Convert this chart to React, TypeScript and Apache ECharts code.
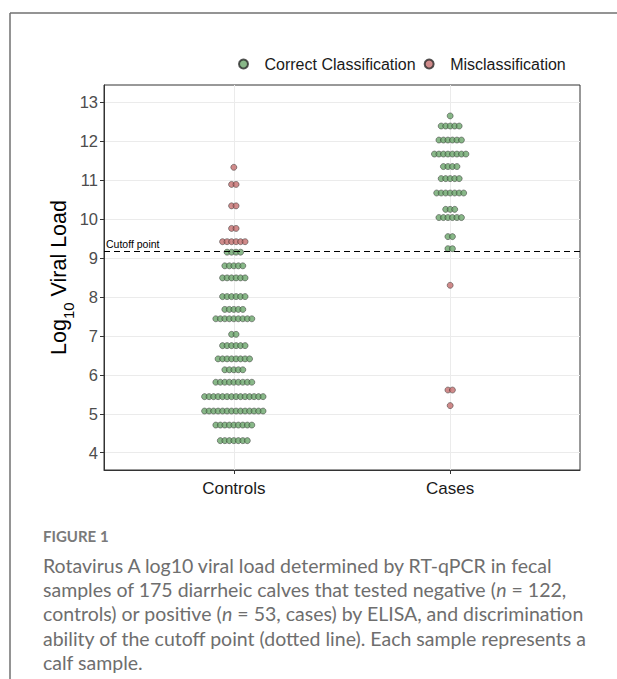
import React, { useEffect, useRef } from "react";
import * as echarts from "echarts";

// ---- Data ----
const categories = ["Controls", "Cases"];
const yTickValues = [4, 5, 6, 7, 8, 9, 10, 11, 12, 13];
const cutoffValue = 9.17;

// dot-plot bins: bin centre (log10 viral load) and number of calves in the bin
const controlsCorrectY = [9.15, 8.8, 8.49, 8.01, 7.68, 7.44, 7.04, 6.75, 6.41, 6.13, 5.81, 5.44, 5.07, 4.71, 4.31];
const controlsCorrectN = [4, 5, 6, 6, 5, 9, 2, 6, 8, 5, 9, 14, 14, 9, 7];
const controlsMisY = [11.33, 10.89, 10.34, 9.76, 9.42];
const controlsMisN = [1, 2, 2, 2, 6];
const casesCorrectY = [12.65, 12.39, 12.03, 11.67, 11.35, 11.04, 10.67, 10.25, 10.04, 9.55, 9.24];
const casesCorrectN = [1, 5, 6, 8, 4, 5, 7, 3, 6, 2, 2];
const casesMisY = [8.3, 5.61, 5.21];
const casesMisN = [1, 2, 1];

const captionTitle = "FIGURE 1";
const captionLines = [
  "Rotavirus A log10 viral load determined by RT-qPCR in fecal",
  "samples of 175 diarrheic calves that tested negative ({i|n} = 122,",
  "controls) or positive ({i|n} = 53, cases) by ELISA, and discrimination",
  "ability of the cutoff point (dotted line). Each sample represents a",
  "calf sample.",
];

// ---- Layout helpers ----
const DOT_STEP = 0.0208; // horizontal stacking step (x-axis units)

function stackDots(groupIndex: number, ys: number[], ns: number[]) {
  const pts: number[][] = [];
  ys.forEach((y, i) => {
    const n = ns[i];
    for (let j = 0; j < n; j++) {
      pts.push([groupIndex + 1 + (j - (n - 1) / 2) * DOT_STEP, y]);
    }
  });
  return pts;
}

const GREEN = "#6ba66b";
const RED = "#c46e6e";
const AXIS_FONT = "'Liberation Sans', Arial, sans-serif";
const CAPTION_FONT = "Lato, 'Open Sans', sans-serif";

export default function App() {
  const ref = useRef<HTMLDivElement>(null);

  useEffect(() => {
    if (!ref.current) return;
    const chart = echarts.init(ref.current, undefined, { renderer: "svg" });

    const correctData = [
      ...stackDots(0, controlsCorrectY, controlsCorrectN),
      ...stackDots(1, casesCorrectY, casesCorrectN),
    ];
    const misData = [
      ...stackDots(0, controlsMisY, controlsMisN),
      ...stackDots(1, casesMisY, casesMisN),
    ];

    const captionStartY = 565;
    const captionStep = 24.4;

    chart.setOption({
      animation: false,
      backgroundColor: "#ffffff",
      grid: {
        left: 104,
        right: 37,
        top: 85,
        bottom: 209,
        show: true,
        borderColor: "#333333",
        borderWidth: 1,
        containLabel: false,
      },
      legend: {
        left: 233,
        top: 51,
        itemWidth: 32,
        itemHeight: 9,
        itemGap: 8,
        selectedMode: false,
        textStyle: { fontSize: 16, color: "#1a1a1a", fontFamily: AXIS_FONT },
        data: ["Correct Classification", "Misclassification"],
      },
      xAxis: {
        type: "value",
        min: 0.4,
        max: 2.6,
        axisLine: { show: true, lineStyle: { color: "#333333", width: 1 } },
        axisTick: { show: true, customValues: [1, 2], length: 4, lineStyle: { color: "#333333" } },
        axisLabel: {
          customValues: [1, 2],
          formatter: (v: number) => categories[Math.round(v) - 1] ?? "",
          fontSize: 17,
          color: "#1a1a1a",
          fontFamily: AXIS_FONT,
          margin: 10,
        },
        splitLine: { show: true, lineStyle: { color: "#ebebeb", width: 1 } },
      },
      yAxis: {
        type: "value",
        min: 3.556,
        max: 13.444,
        axisLine: { show: true, lineStyle: { color: "#333333", width: 1 } },
        axisTick: { show: true, customValues: yTickValues, length: 4, lineStyle: { color: "#333333" } },
        axisLabel: {
          customValues: yTickValues,
          fontSize: 16.5,
          color: "#4d4d4d",
          fontFamily: AXIS_FONT,
          margin: 6,
        },
        splitLine: { show: true, lineStyle: { color: "#ebebeb", width: 1 } },
        name: "{a|Log}{b|10}{a| Viral Load}",
        nameLocation: "middle",
        nameRotate: 90,
        nameGap: 32,
        nameMoveOverlap: false,
        nameTextStyle: {
          rich: {
            a: { fontSize: 21.5, fontFamily: AXIS_FONT, color: "#000000", verticalAlign: "top", lineHeight: 24 },
            b: {
              fontSize: 15,
              fontFamily: AXIS_FONT,
              color: "#000000",
              verticalAlign: "top",
              lineHeight: 15,
              padding: [13, 0, 0, 0],
            },
          },
        },
      },
      series: [
        {
          name: "Correct Classification",
          type: "scatter",
          symbol: "circle",
          symbolSize: 6,
          itemStyle: { color: GREEN, borderColor: "#2b2b2b", borderWidth: 0.6 },
          data: correctData,
          markLine: {
            silent: true,
            symbol: "none",
            data: [{ yAxis: cutoffValue }],
            lineStyle: { color: "#000000", type: [6, 4], width: 1 },
            label: {
              show: true,
              position: "insideStartTop",
              formatter: "Cutoff point",
              fontSize: 10.5,
              color: "#000000",
              fontFamily: AXIS_FONT,
              distance: [2, 2],
            },
          },
          z: 3,
        },
        {
          name: "Misclassification",
          type: "scatter",
          symbol: "circle",
          symbolSize: 6,
          itemStyle: { color: RED, borderColor: "#2b2b2b", borderWidth: 0.6 },
          data: misData,
          z: 3,
        },
      ],
      graphic: [
        {
          type: "line",
          shape: { x1: 10, y1: 13, x2: 10, y2: 679 },
          style: { stroke: "#707070", lineWidth: 1.5 },
          silent: true,
        },
        {
          type: "line",
          shape: { x1: 10, y1: 13, x2: 617, y2: 13 },
          style: { stroke: "#707070", lineWidth: 1.5 },
          silent: true,
        },
        {
          type: "text",
          x: 43,
          y: 536,
          style: {
            text: captionTitle,
            fontSize: 15,
            fontWeight: "bold",
            fontFamily: CAPTION_FONT,
            fill: "#7a7a7a",
            verticalAlign: "middle",
          },
          silent: true,
        },
        ...captionLines.map((line, i) => ({
          type: "text",
          x: 43,
          y: captionStartY + i * captionStep,
          style: {
            text: line,
            fontSize: 19.5,
            fontFamily: CAPTION_FONT,
            fill: "#6e6e6e",
            verticalAlign: "middle",
            rich: {
              i: { fontSize: 19.5, fontFamily: CAPTION_FONT, fill: "#6e6e6e", fontStyle: "italic" },
            },
          },
          silent: true,
        })),
      ],
    });

    return () => chart.dispose();
  }, []);

  return (
    <div
      ref={ref}
      style={{ position: "absolute", left: 0, top: 0, width: 617, height: 679, background: "#fff" }}
    />
  );
}
